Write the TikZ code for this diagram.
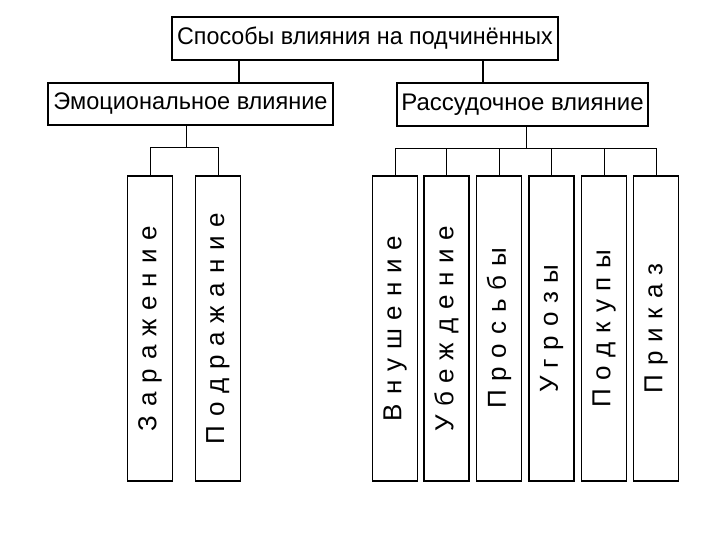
\documentclass[tikz,border=0pt]{standalone}
\usepackage{fontspec}
\setmainfont{Liberation Sans}
\newfontfamily\spacedfont[LetterSpace=34]{Liberation Sans}
\begin{document}
\begin{tikzpicture}[x=1pt,y=-1pt,
  hbox/.style={draw, line width=1.6pt, rectangle, inner sep=0pt, font=\fontsize{24}{28}\selectfont},
  leaf/.style={draw, line width=1.6pt, rectangle, inner sep=0pt, minimum width=45pt, minimum height=305pt, font=\spacedfont\fontsize{26}{30}\selectfont},
  conn/.style={line width=1pt},
  tconn/.style={line width=2pt}]
\useasboundingbox (0,0) rectangle (720,540);
\node[hbox, minimum width=386pt, minimum height=43pt] (top) at (365,38.5) {\scalebox{0.97}[1]{Способы влияния на подчинённых}};
\node[hbox, minimum width=285pt, minimum height=42pt] (emo) at (190.5,104) {\scalebox{0.98}[1]{Эмоциональное влияние}};
\node[hbox, minimum width=251pt, minimum height=43pt] (rat) at (522.5,104.5) {Рассудочное влияние};
\node[leaf] (e1) at (150,328.5) {\rotatebox{90}{Заражение}};
\node[leaf] (e2) at (218,328.5) {\rotatebox{90}{Подражание}};
\node[leaf] (r1) at (395,328.5) {\rotatebox{90}{Внушение}};
\node[leaf] (r2) at (446.5,328.5) {\rotatebox{90}{Убеждение}};
\node[leaf] (r3) at (499,328.5) {\rotatebox{90}{Просьбы}};
\node[leaf] (r4) at (551.5,328.5) {\rotatebox{90}{Угрозы}};
\node[leaf] (r5) at (604,328.5) {\rotatebox{90}{Подкупы}};
\node[leaf] (r6) at (656,328.5) {\rotatebox{90}{Приказ}};
\draw[tconn] ([xshift=48.5pt]emo.north) -- ([xshift=48.5pt]emo.north |- top.south);
\draw[tconn] ([xshift=-39.5pt]rat.north) -- ([xshift=-39.5pt]rat.north |- top.south);
\draw[conn] ([xshift=-4.5pt]emo.south) -- ++(0,22) coordinate (eb);
\draw[conn] (e1.north) |- (eb) -| (e2.north);
\draw[conn] ([xshift=3.5pt]rat.south) -- ++(0,22) coordinate (rb);
\draw[conn] (r1.north) |- (rb) -| (r6.north);
\foreach \n in {r2,r3,r4,r5} \draw[conn] (\n.north) -- (\n.north |- rb);
\end{tikzpicture}
\end{document}
